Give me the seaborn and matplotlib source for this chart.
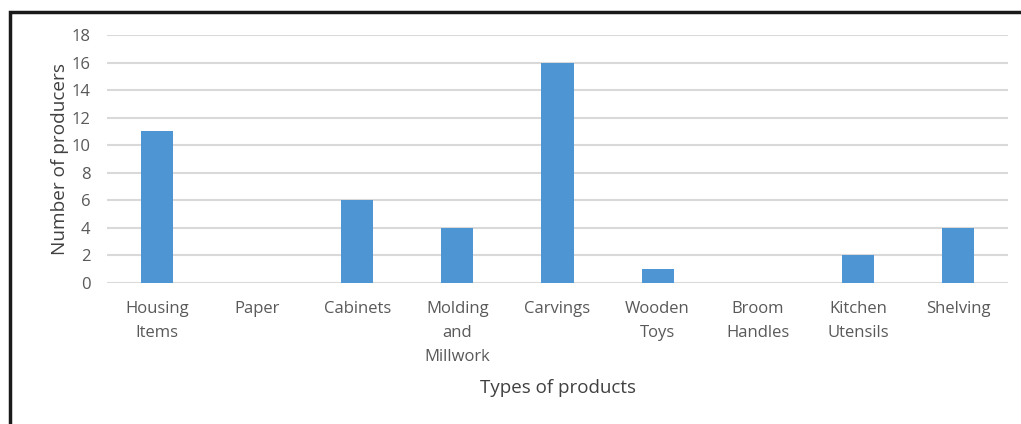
import matplotlib
matplotlib.use("Agg")
import matplotlib.pyplot as plt
import seaborn as sns
import pandas as pd
from matplotlib.patches import Rectangle

categories = ["Housing\nItems", "Paper", "Cabinets", "Molding\nand\nMillwork", "Carvings",
              "Wooden\nToys", "Broom\nHandles", "Kitchen\nUtensils", "Shelving"]
values = [11, 0, 6, 4, 16, 1, 0, 2, 4]
yticks = [0, 2, 4, 6, 8, 10, 12, 14, 16, 18]

sns.set_style("white")
plt.rcParams['font.family'] = ['Open Sans', 'DejaVu Sans']

df = pd.DataFrame({"cat": categories, "val": values})

fig = plt.figure(figsize=(10.21, 4.24), dpi=100)
ax = fig.add_axes([107/1021, 1-283/424, (1008-107)/1021, (283-35)/424])

sns.barplot(data=df, x="cat", y="val", color="#4e96d3", width=0.32, ax=ax,
            saturation=1, linewidth=0, zorder=3)

ax.set_ylim(0, 18)
ax.set_xlim(-0.5, len(categories) - 0.5)
ax.set_yticks(yticks)
ax.yaxis.grid(True, color="#d9d9d9", linewidth=1.5, zorder=0)
ax.set_axisbelow(True)
for s in ax.spines.values():
    s.set_visible(False)
ax.tick_params(axis='both', length=0, labelsize=12, labelcolor="#595959")
ax.tick_params(axis='y', pad=12)
ax.tick_params(axis='x', pad=13)
ax.set_xlabel("Types of products", fontsize=13.5, color="#404040", labelpad=10)
ax.set_ylabel("Number of producers", fontsize=13.7, color="#404040", labelpad=2)
for lbl in ax.get_xticklabels():
    lbl.set_linespacing(1.68)

fig.patches.append(Rectangle((10/1021, -0.1), 1.2, 1 - 12/424 + 0.1, transform=fig.transFigure,
                             fill=False, edgecolor="#1a1a1a", linewidth=2.5, zorder=10))

fig.savefig("out.png", dpi=100)
